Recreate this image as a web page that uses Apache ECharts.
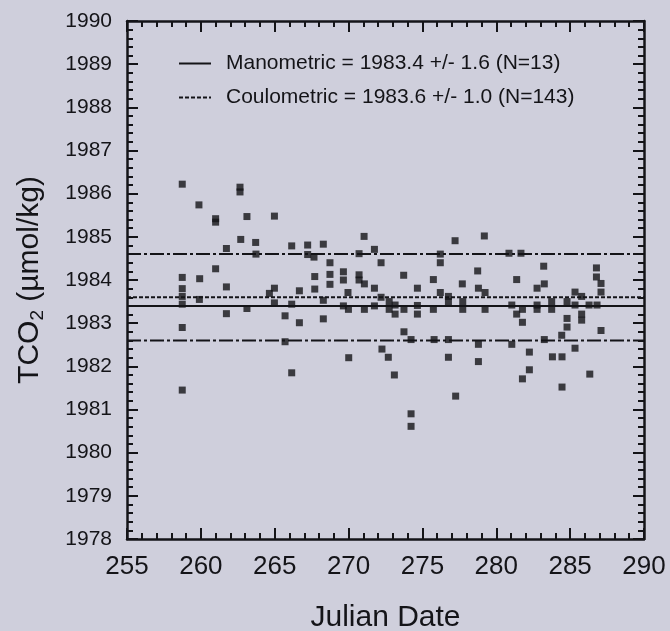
<!DOCTYPE html>
<html>
<head>
<meta charset="utf-8">
<title>TCO2 vs Julian Date</title>
<script src="https://cdn.jsdelivr.net/npm/echarts@6/dist/echarts.min.js"></script>
<style>
  html, body { margin: 0; padding: 0; background: #cfcfdc; }
  #chart { width: 670px; height: 631px; }
</style>
</head>
<body>
<div id="chart"></div>
<script>
// Coulometric TCO2 determinations by Julian date
const julianDay = [
  258.74, 262.65, 262.65, 259.87, 261.00, 261.00, 263.12, 264.98, 262.70, 263.71,
  261.73, 263.73, 266.15, 267.23, 267.23, 267.66, 268.29, 271.05, 271.75, 270.71,
  272.20, 268.74, 261.00, 258.74, 259.92, 261.73, 258.74, 258.74, 258.74, 259.90,
  261.73, 263.12, 258.74, 258.74, 264.64, 264.98, 264.98, 266.67, 266.15, 265.70,
  266.67, 265.70, 266.15, 267.71, 268.74, 268.74, 267.71, 268.29, 268.29, 269.65,
  269.65, 270.71, 270.71, 271.07, 269.96, 271.75, 269.65, 269.99, 271.07, 271.75,
  272.20, 270.01, 272.26, 272.69, 277.21, 279.19, 276.21, 276.21, 280.86, 281.67,
  283.21, 286.78, 286.78, 287.09, 287.09, 273.73, 275.74, 278.74, 277.70, 274.66,
  276.21, 278.79, 279.24, 281.38, 282.76, 283.25, 285.33, 285.78, 272.75, 272.75,
  273.15, 273.15, 273.75, 274.66, 274.66, 275.74, 276.76, 277.73, 277.73, 279.24,
  281.05, 281.77, 281.38, 282.76, 282.76, 283.75, 283.75, 284.79, 285.33, 285.78,
  285.78, 286.28, 286.82, 281.77, 284.79, 284.79, 273.75, 287.09, 274.23, 275.79,
  276.76, 278.79, 281.05, 283.25, 284.43, 285.33, 282.24, 283.80, 284.45, 276.76,
  278.79, 273.10, 282.24, 281.77, 286.33, 284.45, 277.25, 274.23, 274.23, 276.76
];
const tco2 = [
  1986.22, 1986.15, 1986.04, 1985.74, 1985.42, 1985.34, 1985.47, 1985.48, 1984.94, 1984.87,
  1984.73, 1984.60, 1984.79, 1984.81, 1984.59, 1984.53, 1984.83, 1985.01, 1984.71, 1984.61,
  1984.40, 1984.40, 1984.26, 1984.06, 1984.03, 1983.84, 1983.80, 1983.62, 1983.44, 1983.55,
  1983.22, 1983.34, 1982.90, 1981.45, 1983.69, 1983.81, 1983.47, 1983.75, 1983.44, 1983.17,
  1983.01, 1982.57, 1981.85, 1984.08, 1984.13, 1983.90, 1983.79, 1983.53, 1983.10, 1984.19,
  1984.00, 1984.12, 1984.00, 1983.91, 1983.71, 1983.81, 1983.40, 1983.32, 1983.32, 1983.40,
  1983.60, 1982.20, 1982.40, 1982.21, 1984.91, 1985.02, 1984.60, 1984.40, 1984.62, 1984.62,
  1984.32, 1984.28, 1984.07, 1983.92, 1983.72, 1984.11, 1984.01, 1984.21, 1983.91, 1983.81,
  1983.71, 1983.81, 1983.71, 1984.01, 1983.81, 1983.91, 1983.72, 1983.62, 1983.50, 1983.32,
  1983.42, 1983.21, 1983.32, 1983.41, 1983.21, 1983.32, 1983.50, 1983.50, 1983.32, 1983.32,
  1983.42, 1983.32, 1983.21, 1983.42, 1983.32, 1983.50, 1983.32, 1983.50, 1983.42, 1983.21,
  1983.07, 1983.42, 1983.42, 1983.02, 1983.11, 1982.91, 1982.80, 1982.83, 1982.62, 1982.62,
  1982.62, 1982.51, 1982.51, 1982.62, 1982.72, 1982.42, 1982.33, 1982.22, 1982.22, 1982.21,
  1982.11, 1981.80, 1981.92, 1981.71, 1981.82, 1981.52, 1981.31, 1980.90, 1980.61, 1983.62
];

// Summary statistics of the two methods
const manometricMean = 1983.4;
const manometricSd = 1.6;
const manometricN = 13;
const coulometricMean = 1983.6;
const coulometricSd = 1.0;
const coulometricN = 143;

// Axis ranges
const xRange = [255, 290];
const xStep = 5;
const yRange = [1978, 1990];
const yStep = 1;

const FONT = 'Liberation Sans, Arial, Helvetica, sans-serif';
const INK = '#141418';

const manometricLabel = 'Manometric = ' + manometricMean.toFixed(1) + ' +/- ' +
  manometricSd.toFixed(1) + ' (N=' + manometricN + ')';
const coulometricLabel = 'Coulometric = ' + coulometricMean.toFixed(1) + ' +/- ' +
  coulometricSd.toFixed(1) + ' (N=' + coulometricN + ')';

const points = julianDay.map((d, i) => [d, tco2[i]]);
const hline = v => [[xRange[0], v], [xRange[1], v]];

function valueAxis(range, step, position, showLabels, extra) {
  return Object.assign({
    type: 'value',
    position: position,
    min: range[0],
    max: range[1],
    interval: step,
    axisLine: { show: true, onZero: false, lineStyle: { color: INK, width: 2.5 } },
    axisTick: { show: true, inside: true, length: 11, lineStyle: { color: INK, width: 2 } },
    minorTick: { show: true, splitNumber: 5, length: 6, lineStyle: { color: INK, width: 2 } },
    splitLine: { show: false },
    minorSplitLine: { show: false },
    axisLabel: { show: showLabels, color: INK, fontFamily: FONT, formatter: v => String(v) }
  }, extra || {});
}

const dashDot = [14, 3, 3, 3];
const fineDash = [4, 2];

const option = {
  backgroundColor: '#cfcfdc',
  animation: false,
  color: [INK],
  grid: { left: 127, right: 26, top: 21, bottom: 92, outerBoundsMode: 'none', containLabel: false },
  legend: {
    data: [
      { name: manometricLabel, icon: 'inherit' },
      { name: coulometricLabel, icon: 'inherit' }
    ],
    orient: 'vertical',
    left: 178,
    top: 53,
    padding: 0,
    itemGap: 13,
    itemWidth: 32,
    itemHeight: 14,
    selectedMode: false,
    itemStyle: { opacity: 0 },
    textStyle: { fontFamily: FONT, fontSize: 21, color: INK, lineHeight: 20, padding: [0, 0, 0, 10] }
  },
  xAxis: [
    valueAxis(xRange, xStep, 'bottom', true, {
      name: 'Julian Date',
      nameLocation: 'middle',
      nameGap: 64,
      nameTextStyle: { fontFamily: FONT, fontSize: 30, color: INK },
      axisLabel: { show: true, color: INK, fontFamily: FONT, fontSize: 26, margin: 15, formatter: v => String(v) }
    }),
    valueAxis(xRange, xStep, 'top', false)
  ],
  yAxis: [
    valueAxis(yRange, yStep, 'left', true, {
      name: '{t|TCO}{s|2}{t| (µmol/kg)}',
      nameLocation: 'middle',
      nameRotate: 90,
      nameGap: 80,
      nameTextStyle: {
        fontFamily: FONT, color: INK,
        rich: {
          t: { fontFamily: FONT, fontSize: 30, lineHeight: 34, color: INK },
          s: { fontFamily: FONT, fontSize: 19, lineHeight: 19, verticalAlign: 'bottom', color: INK }
        }
      },
      axisLabel: { show: true, color: INK, fontFamily: FONT, fontSize: 21, margin: 15, formatter: v => String(v) }
    }),
    valueAxis(yRange, yStep, 'right', false)
  ],
  series: [
    {
      name: manometricLabel,
      type: 'line',
      data: hline(manometricMean),
      symbol: 'none',
      silent: true,
      itemStyle: { color: INK },
      lineStyle: { color: INK, width: 2, type: 'solid' },
      z: 2
    },
    {
      name: coulometricLabel,
      type: 'line',
      data: hline(coulometricMean),
      symbol: 'none',
      silent: true,
      itemStyle: { color: INK },
      lineStyle: { color: INK, width: 2, type: fineDash },
      z: 2
    },
    {
      name: 'coulometric +1 sd',
      type: 'line',
      data: hline(coulometricMean + coulometricSd),
      symbol: 'none',
      silent: true,
      lineStyle: { color: INK, width: 2, type: dashDot },
      z: 2
    },
    {
      name: 'coulometric -1 sd',
      type: 'line',
      data: hline(coulometricMean - coulometricSd),
      symbol: 'none',
      silent: true,
      lineStyle: { color: INK, width: 2, type: dashDot },
      z: 2
    },
    {
      name: 'TCO2',
      type: 'scatter',
      data: points,
      symbol: 'rect',
      symbolSize: 7,
      itemStyle: { color: INK },
      z: 3
    }
  ]
};

const chart = echarts.init(document.getElementById('chart'), null, { renderer: 'canvas' });
chart.setOption(option);
</script>
</body>
</html>
